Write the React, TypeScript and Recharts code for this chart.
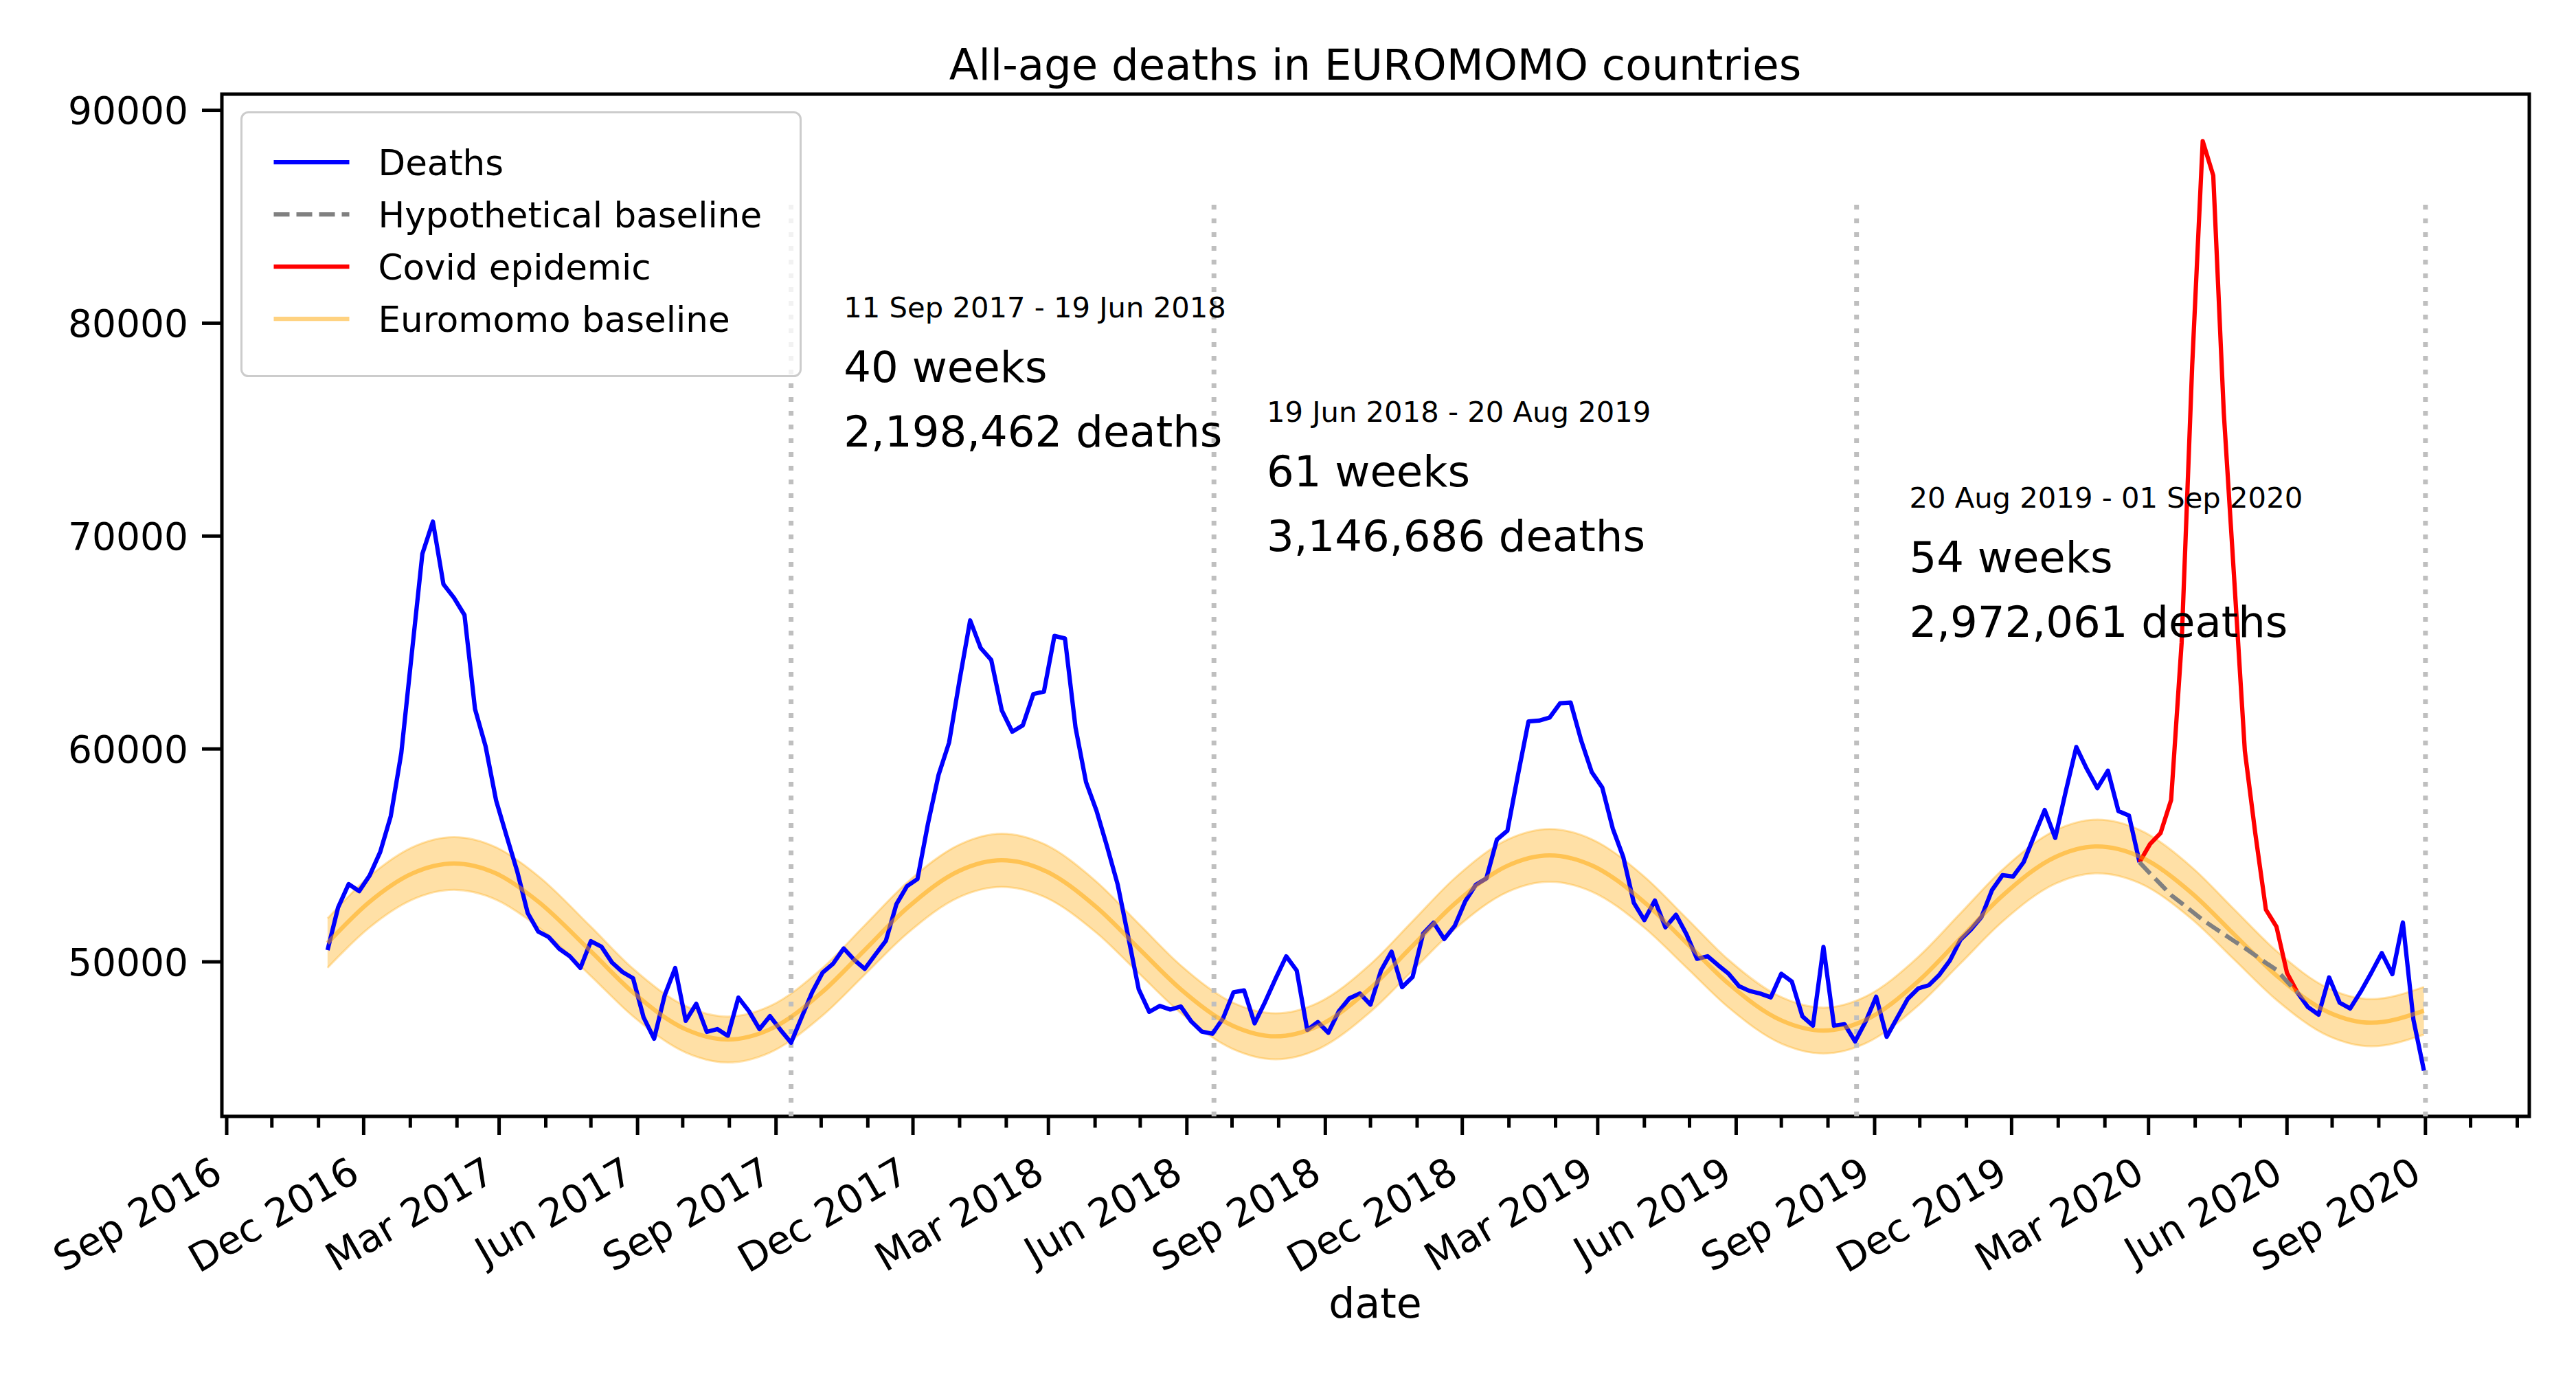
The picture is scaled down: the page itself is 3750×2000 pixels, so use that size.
import { Area, ComposedChart, Legend, Line, ReferenceArea, ReferenceDot, ReferenceLine, XAxis, YAxis } from 'recharts'

const FONT = '"DejaVu Sans", sans-serif'
const DAY = 24 * 60 * 60 * 1000
const FIRST_WEEK = Date.UTC(2016, 10, 7)
const weekDate = (i: number) => FIRST_WEEK + i * 7 * DAY
const day = (s: string) => Date.parse(s + 'T00:00:00Z')

// weekly all-age deaths; the covid weeks are drawn by the red series instead
const deaths: (number | null)[] = [
  50550, 52550, 53650, 53320, 54060, 55160, 56840, 59800, 64490, 69160,
  70680, 67740, 67100, 66290, 61870, 60130, 57580, 55900, 54260, 52290,
  51420, 51160, 50610, 50260, 49710, 50970, 50710, 49970, 49520, 49230,
  47390, 46390, 48420, 49710, 47230, 48030, 46710, 46840, 46520, 48320,
  47680, 46840, 47450, 46800, 46200, 47390, 48570, 49500, 49920, 50630,
  50090, 49670, 50340, 50990, 52710, 53550, 53890, 56500, 58780, 60300,
  63250, 66040, 64740, 64180, 61820, 60810, 61110, 62580, 62690, 65310,
  65190, 61010, 58440, 57090, 55410, 53640, 51190, 48710, 47650, 47930,
  47760, 47900, 47190, 46720, 46620, 47340, 48570, 48660, 47110, 48120,
  49220, 50260, 49590, 46800, 47170, 46670, 47680, 48290, 48510, 47990,
  49590, 50480, 48810, 49290, 51330, 51840, 51070, 51690, 52850, 53620,
  53920, 55740, 56160, 58780, 61290, 61330, 61470, 62150, 62180, 60400,
  58920, 58190, 56260, 54920, 52770, 51960, 52880, 51620, 52210, 51290,
  50140, 50260, 49840, 49440, 48850, 48630, 48510, 48330, 49440, 49070,
  47440, 47000, 50700, 47000, 47070, 46260, 47190, 48360, 46480, 47370,
  48260, 48750, 48900, 49390, 50060, 51030, 51520, 52110, 53370, 54070,
  54010, 54680, 55910, 57130, 55820, 58010, 60090, 59060, 58160, 58980,
  57080, 56870, 54680, null, null, null, null, null, null, null,
  null, null, null, null, null, null, null, 48550, 47870, 47520,
  49270, 48080, 47810, 48600, 49480, 50410, 49420, 51850, 47290, 44890,
]

const COVID_FROM = 172
const covid = [54680, 55530, 56050, 57600, 65000, 78000, 88550, 86940, 75800, 67900, 59900, 56000, 52450, 51650, 49480, 48550]
const hypothetical = [54680, 54150, 53650, 53130, 52750, 52360, 51970, 51630, 51300, 50970, 50650, 50300, 49950, 49620, 49080, 48550]

const baselineWeeks = [0, 4, 8, 12, 16, 20, 25, 29, 34, 38, 42, 47, 51, 55, 60, 64, 68, 73, 77, 81, 86, 90, 94, 99, 103, 107, 112, 116, 120, 125, 129, 133, 138, 142, 146, 151, 155, 159, 164, 168, 172, 177, 181, 185, 190, 194, 199]
const baseline = [
  50880, 52820, 54140, 54620, 54150, 52830, 50490, 48560, 46830, 46350, 46830, 48600,
  50560, 52520, 54280, 54770, 54300, 52560, 50630, 48710, 46980, 46500, 46980, 48770,
  50750, 52730, 54510, 55000, 54530, 52800, 50890, 48970, 47250, 46770, 47270, 49090,
  51100, 53110, 54920, 55420, 54950, 53210, 51280, 49360, 47620, 47140, 47700,
]
const baselineLow = [
  49720, 51620, 52910, 53380, 52920, 51630, 49330, 47440, 45740, 45270, 45740, 47480,
  49400, 51320, 53050, 53520, 53060, 51360, 49470, 47590, 45890, 45420, 45890, 47650,
  49590, 51530, 53280, 53760, 53300, 51600, 49730, 47850, 46160, 45690, 46170, 47950,
  49920, 51890, 53670, 54160, 53700, 51990, 50100, 48210, 46500, 46030, 46580,
]
const baselineHigh = [
  52040, 54020, 55370, 55860, 55380, 54030, 51650, 49680, 47920, 47430, 47920, 49720,
  51720, 53720, 55510, 56020, 55540, 53760, 51790, 49830, 48070, 47580, 48070, 49890,
  51910, 53930, 55740, 56240, 55760, 54000, 52050, 50090, 48340, 47850, 48370, 50230,
  52280, 54330, 56170, 56680, 56200, 54430, 52460, 50510, 48740, 48250, 48820,
]

const periodBreaks = ['2017-09-11', '2018-06-19', '2019-08-20', '2020-09-01']
const noteDates = ['2017-10-16', '2018-07-24', '2019-09-24']
const noteY = [80260, 75360, 71330]
const noteRanges = ['11 Sep 2017 - 19 Jun 2018', '19 Jun 2018 - 20 Aug 2019', '20 Aug 2019 - 01 Sep 2020']
const noteWeeks = ['40 weeks', '61 weeks', '54 weeks']
const noteDeaths = ['2,198,462 deaths', '3,146,686 deaths', '2,972,061 deaths']

const quarterLabels = [
  'Sep 2016', 'Dec 2016', 'Mar 2017', 'Jun 2017', 'Sep 2017', 'Dec 2017', 'Mar 2018', 'Jun 2018', 'Sep 2018',
  'Dec 2018', 'Mar 2019', 'Jun 2019', 'Sep 2019', 'Dec 2019', 'Mar 2020', 'Jun 2020', 'Sep 2020',
]
const monthNames = ['Jan', 'Feb', 'Mar', 'Apr', 'May', 'Jun', 'Jul', 'Aug', 'Sep', 'Oct', 'Nov', 'Dec']
const yTicks = [50000, 60000, 70000, 80000, 90000]

const legendNames = ['Deaths', 'Hypothetical baseline', 'Covid epidemic', 'Euromomo baseline']
const legendColors = ['#0000ff', '#808080', '#ff0000', '#ffd280']
const legendDashes = [undefined, '23 10', undefined, undefined]

const X_MIN = Date.UTC(2016, 7, 28, 19)
const X_MAX = Date.UTC(2020, 10, 9, 0)
const Y_MIN = 42740
const Y_MAX = 90760
const VLINE_TOP = 85780

const monthTicks: number[] = []
for (let y = 2016, m = 8; y < 2020 || m <= 10; m++) {
  if (m > 11) { m = 0; y++ }
  monthTicks.push(Date.UTC(y, m, 1))
}

const deathsData = deaths.map((v, i) => ({ t: weekDate(i), v }))
const covidData = covid.map((v, i) => ({ t: weekDate(COVID_FROM + i), v }))
const hypoData = hypothetical.map((v, i) => ({ t: weekDate(COVID_FROM + i), v }))
const bandData = baselineWeeks.map((w, i) => ({
  t: weekDate(w),
  base: baseline[i],
  band: [baselineLow[i], baselineHigh[i]],
}))

function MonthTick(props: any) {
  const { x, y, payload } = props
  const d = new Date(payload.value)
  const name = `${monthNames[d.getUTCMonth()]} ${d.getUTCFullYear()}`
  const major = quarterLabels.includes(name)
  const tx = x - 3
  const ty = y + 92
  return (
    <g>
      <line x1={x} x2={x} y1={y} y2={y + (major ? 27 : 16.5)} stroke="#000" strokeWidth={5} />
      {major && (
        <text x={tx} y={ty} textAnchor="end" transform={`rotate(-30 ${tx} ${ty})`} fontSize={57} fontFamily={FONT} fill="#000">
          {name}
        </text>
      )}
    </g>
  )
}

function periodNote(i: number) {
  return (p: any) => (
    <g fontFamily={FONT} fill="#000">
      <text x={p.cx} y={p.cy} fontSize={41.7}>{noteRanges[i]}</text>
      <text x={p.cx} y={p.cy + 94} fontSize={62.5}>{noteWeeks[i]}</text>
      <text x={p.cx} y={p.cy + 188} fontSize={62.5}>{noteDeaths[i]}</text>
    </g>
  )
}

function LegendBox() {
  return (
    <svg width={817} height={387} style={{ display: 'block' }}>
      <rect x={1.5} y={1.5} width={814} height={384} rx={10} fill="#fff" fillOpacity={0.8} stroke="#cccccc" strokeWidth={3} />
      {legendNames.map((name, i) => (
        <g key={name}>
          <line x1={48.5} x2={158.5} y1={74 + i * 76} y2={74 + i * 76} stroke={legendColors[i]} strokeWidth={6.25} strokeDasharray={legendDashes[i]} />
          <text x={200.5} y={93 + i * 76} fontSize={51.5} fontFamily={FONT} fill="#000">{name}</text>
        </g>
      ))}
    </svg>
  )
}

export default function App() {
  return (
    <div style={{ position: 'absolute', left: 0, top: 0, width: 3750, height: 2000, background: '#fff' }}>
      <ComposedChart width={3750} height={2000} margin={{ top: 137, right: 68, bottom: 75, left: 123 }}>
        <XAxis
          type="number"
          dataKey="t"
          domain={[X_MIN, X_MAX]}
          allowDataOverflow
          ticks={monthTicks}
          interval={0}
          tick={<MonthTick />}
          tickLine={false}
          tickSize={0}
          tickMargin={0}
          axisLine={false}
          height={300}
        />
        <YAxis
          type="number"
          domain={[Y_MIN, Y_MAX]}
          allowDataOverflow
          ticks={yTicks}
          width={200}
          tickSize={29}
          tickMargin={20}
          tickLine={{ stroke: '#000', strokeWidth: 5 }}
          axisLine={false}
          tick={{ fontSize: 55, fill: '#000', fontFamily: FONT }}
        />
        {periodBreaks.map((d) => (
          <ReferenceLine
            key={d}
            segment={[{ x: day(d), y: Y_MIN }, { x: day(d), y: VLINE_TOP }]}
            stroke="#bfbfbf"
            strokeWidth={7}
            strokeDasharray="7 13"
            ifOverflow="visible"
          />
        ))}
        <Line data={deathsData} dataKey="v" stroke="#0000ff" strokeWidth={6.25} dot={false} activeDot={false} strokeLinejoin="round" isAnimationActive={false} />
        <Line data={covidData} dataKey="v" stroke="#ff0000" strokeWidth={6.25} dot={false} activeDot={false} strokeLinejoin="round" isAnimationActive={false} />
        <Area
          data={bandData}
          dataKey="band"
          type="monotone"
          fill="#ffa500"
          fillOpacity={0.35}
          stroke="#ffa500"
          strokeOpacity={0.3}
          strokeWidth={3}
          dot={false}
          activeDot={false}
          isAnimationActive={false}
        />
        <Line data={bandData} dataKey="base" type="monotone" stroke="#ffa500" strokeOpacity={0.5} strokeWidth={6.25} dot={false} activeDot={false} isAnimationActive={false} />
        <Line data={hypoData} dataKey="v" stroke="#808080" strokeWidth={6.25} strokeDasharray="23 10" dot={false} activeDot={false} isAnimationActive={false} />
        {noteDates.map((d, i) => (
          <ReferenceDot key={d} x={day(d)} y={noteY[i]} r={0} ifOverflow="visible" shape={periodNote(i)} />
        ))}
        <ReferenceArea x1={X_MIN} x2={X_MAX} y1={Y_MIN} y2={Y_MAX} fill="none" stroke="#000" strokeWidth={5} ifOverflow="visible" />
        <Legend
          layout="horizontal"
          verticalAlign="middle"
          align="center"
          content={() => <LegendBox />}
          wrapperStyle={{ left: 349.5, top: 161.5, width: 817, height: 387 }}
        />
      </ComposedChart>
      <svg width={3750} height={2000} style={{ position: 'absolute', left: 0, top: 0, pointerEvents: 'none' }}>
        <text x={2002} y={116} textAnchor="middle" fontSize={62.5} fontFamily={FONT} fill="#000">
          All-age deaths in EUROMOMO countries
        </text>
        <text x={2002} y={1918} textAnchor="middle" fontSize={60} fontFamily={FONT} fill="#000">
          date
        </text>
      </svg>
    </div>
  )
}
